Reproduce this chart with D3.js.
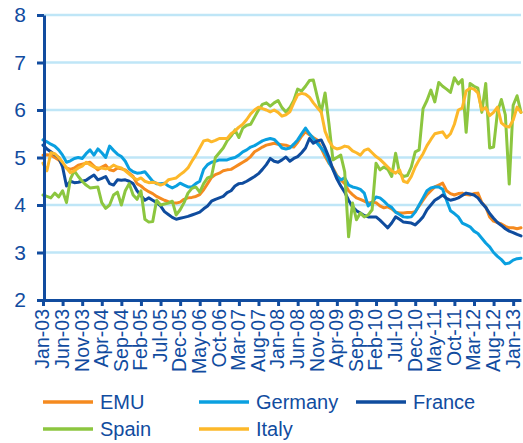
<!DOCTYPE html>
<html>
<meta charset="utf-8">
<style>
    body { margin: 0; background: #fff; }
    .line { fill: none; stroke-width: 3px; stroke-linejoin: round; stroke-linecap: round; }
    .grid line { stroke: #bfe6f7; stroke-width: 2.5px; }
    text { font-family: "Liberation Sans", Arial, sans-serif; fill: #114c9f; }
</style>
<body>
<script src="https://d3js.org/d3.v7.min.js"></script>
<script>

// tick labels (every 5 months, Jan-03 .. Jan-13)
var tickLabels = ["Jan-03","Jun-03","Nov-03","Apr-04","Sep-04","Feb-05","Jul-05","Dec-05",
    "May-06","Oct-06","Mar-07","Aug-07","Jan-08","Jun-08","Nov-08","Apr-09","Sep-09",
    "Feb-10","Jul-10","Dec-10","May-11","Oct-11","Mar-12","Aug-12","Jan-13"];

// monthly values, Jan-03 .. Mar-13
var emu = [5.05,5.06,5.05,5.0,4.95,4.85,4.78,4.75,4.78,4.84,
    4.86,4.88,4.9,4.82,4.74,4.8,4.84,4.74,4.72,4.78,
    4.76,4.74,4.67,4.6,4.45,4.4,4.33,4.28,4.24,4.18,
    4.14,4.1,4.07,4.05,4.04,4.06,4.12,4.15,4.16,4.18,
    4.22,4.32,4.45,4.58,4.64,4.67,4.72,4.74,4.75,4.8,
    4.85,4.9,4.95,5.02,5.12,5.17,5.22,5.26,5.28,5.3,
    5.28,5.27,5.26,5.23,5.22,5.32,5.45,5.54,5.48,5.42,
    5.37,5.2,5.02,4.88,4.78,4.62,4.53,4.45,4.3,4.22,
    4.15,4.12,4.08,4.04,4.06,4.05,3.98,3.94,3.96,3.92,
    3.85,3.83,3.83,3.84,3.84,3.86,3.98,4.1,4.22,4.3,
    4.38,4.42,4.46,4.3,4.24,4.21,4.24,4.25,4.22,4.21,
    4.24,4.25,4.05,3.96,3.75,3.66,3.63,3.6,3.55,3.52,
    3.52,3.5,3.52];

var germany = [5.37,5.33,5.28,5.24,5.16,5.05,4.9,4.93,4.98,5.0,
    4.98,5.08,5.16,5.05,5.18,5.1,5.0,5.24,5.15,5.07,
    5.02,4.92,4.76,4.7,4.67,4.68,4.7,4.6,4.5,4.45,
    4.45,4.46,4.4,4.36,4.4,4.46,4.42,4.38,4.38,4.45,
    4.5,4.75,4.85,4.9,4.92,4.95,4.95,4.95,4.98,5.0,
    5.05,5.12,5.16,5.22,5.25,5.3,5.35,5.38,5.4,5.38,
    5.3,5.2,5.18,5.2,5.28,5.37,5.5,5.62,5.5,5.4,
    5.3,5.2,5.1,4.9,4.75,4.6,4.53,4.57,4.42,4.38,
    4.36,4.33,4.25,3.98,4.05,4.17,4.15,4.08,4.0,3.95,
    3.85,3.8,3.75,3.74,3.75,3.85,4.0,4.15,4.3,4.36,
    4.38,4.38,4.33,4.1,3.88,3.82,3.75,3.62,3.58,3.54,
    3.45,3.4,3.3,3.2,3.12,3.0,2.92,2.85,2.76,2.78,
    2.84,2.87,2.88];

var france = [5.26,5.18,5.12,5.06,5.0,4.8,4.4,4.5,4.47,4.48,
    4.5,4.52,4.58,4.63,4.53,4.56,4.6,4.45,4.42,4.53,
    4.52,4.53,4.5,4.45,4.3,4.2,4.1,4.15,4.1,4.05,
    3.98,3.86,3.8,3.74,3.7,3.72,3.74,3.76,3.79,3.82,
    3.85,3.92,3.98,4.08,4.12,4.15,4.18,4.26,4.3,4.4,
    4.45,4.46,4.5,4.55,4.6,4.66,4.75,4.85,4.98,4.92,
    4.9,4.95,5.01,4.92,4.98,5.02,5.1,5.2,5.4,5.3,
    5.35,5.37,5.2,5.0,4.75,4.55,4.4,4.27,4.1,3.96,
    3.88,3.83,3.78,3.75,3.75,3.75,3.68,3.6,3.52,3.62,
    3.75,3.7,3.64,3.63,3.62,3.58,3.66,3.75,3.9,4.0,
    4.1,4.15,4.21,4.14,4.1,4.12,4.15,4.2,4.25,4.23,
    4.21,4.15,4.04,3.95,3.82,3.72,3.63,3.57,3.5,3.45,
    3.42,3.38,3.35];

var spain = [4.21,4.18,4.15,4.25,4.17,4.3,4.05,4.55,4.72,4.6,
    4.5,4.42,4.36,4.37,4.38,4.05,3.93,4.0,4.21,4.27,
    4.0,4.3,4.45,4.21,4.12,4.3,3.7,3.64,3.65,4.1,
    4.0,4.02,4.04,4.08,3.79,3.9,4.05,4.25,4.35,4.38,
    4.27,4.45,4.57,4.6,5.0,5.1,5.2,5.35,5.45,5.58,
    5.42,5.62,5.68,5.7,5.85,6.0,6.12,6.15,6.08,6.15,
    6.2,6.05,5.96,6.05,6.2,6.44,6.4,6.5,6.62,6.63,
    6.28,5.95,6.36,5.7,4.95,5.0,5.05,4.7,3.33,4.04,
    3.69,3.83,3.75,3.79,3.9,4.88,4.74,4.8,4.75,4.6,
    5.09,4.67,4.6,4.62,4.8,5.12,5.16,6.03,6.2,6.42,
    6.17,6.58,6.5,6.44,6.37,6.68,6.55,6.64,5.53,6.56,
    6.5,6.46,5.95,6.56,5.2,5.22,5.96,6.22,5.9,4.44,
    6.1,6.3,5.95];

var italy = [4.88,4.72,5.1,5.08,5.0,4.9,4.78,4.68,4.72,4.78,
    4.82,4.9,4.85,4.8,4.78,4.78,4.76,4.78,4.84,4.8,
    4.78,4.72,4.65,4.58,4.53,4.57,4.5,4.47,4.48,4.46,
    4.42,4.45,4.53,4.55,4.57,4.64,4.7,4.78,4.92,5.05,
    5.2,5.35,5.37,5.33,5.36,5.4,5.4,5.4,5.5,5.56,
    5.64,5.7,5.8,5.92,6.0,6.06,6.03,6.0,5.96,6.0,
    5.95,5.87,5.9,5.96,6.15,6.32,6.35,6.33,6.27,6.15,
    6.05,5.96,5.55,5.35,5.22,5.18,5.2,5.24,5.22,5.14,
    5.1,5.05,5.15,5.18,5.1,5.02,4.96,4.88,4.8,4.72,
    4.67,4.74,4.5,4.47,4.6,4.8,4.95,5.08,5.25,5.38,
    5.5,5.52,5.54,5.42,5.5,5.7,6.0,6.04,6.4,6.46,
    6.44,6.36,6.0,6.05,5.88,5.95,6.06,5.73,5.66,5.64,
    5.79,6.06,5.95];

var seriesNames = ["EMU", "Germany", "France", "Spain", "Italy"];
var seriesColors = ["#f58a1f", "#0aa0e0", "#0f4c9e", "#8cc63f", "#fdb82a"];
var seriesData = [emu, germany, france, spain, italy];

var W = 523, H = 443;
var x0 = 44, x1 = 521, yTop = 15, yBot = 300;

var svg = d3.select("body").append("svg")
    .attr("width", W)
    .attr("height", H);

var x = d3.scaleLinear().domain([0, emu.length - 1]).range([x0 - 1, x1]);
var y = d3.scaleLinear().domain([2, 8]).range([yBot, yTop]);

// gridlines
svg.append("g")
    .attr("class", "grid")
    .selectAll("line")
    .data([3, 4, 5, 6, 7, 8])
    .enter().append("line")
    .attr("x1", x0).attr("x2", x1)
    .attr("y1", function (d) { return y(d); })
    .attr("y2", function (d) { return y(d); });

// lines
var valueline = d3.line()
    .x(function (d, i) { return x(i); })
    .y(function (d) { return y(d); });

seriesData.forEach(function (s, k) {
    svg.append("path")
        .datum(s)
        .attr("class", "line")
        .style("stroke", seriesColors[k])
        .attr("d", valueline);
});

// y axis
var yAxis = svg.append("g")
    .attr("transform", "translate(" + x0 + ",0)")
    .call(d3.axisLeft(y)
        .tickValues([2, 3, 4, 5, 6, 7, 8])
        .tickFormat(d3.format("d"))
        .tickSize(7).tickSizeOuter(0).tickPadding(11));
yAxis.selectAll("text").style("font-size", "21px");

// x axis
var xAxis = svg.append("g")
    .attr("transform", "translate(0," + yBot + ")")
    .call(d3.axisBottom(x)
        .tickValues(d3.range(0, 121, 5))
        .tickFormat(function (d) { return tickLabels[d / 5]; })
        .tickSize(6).tickSizeOuter(0));
xAxis.selectAll("text")
    .attr("transform", "rotate(-90)")
    .attr("x", -9)
    .attr("y", 0)
    .attr("dy", "0.3em")
    .style("text-anchor", "end")
    .style("font-size", "19.5px");

svg.selectAll(".domain, .tick line")
    .style("stroke", "#114c9f")
    .style("stroke-width", "3px");

// legend
var legendPos = [[43, 402], [199, 402], [356, 402], [43, 429], [199, 429]];
seriesNames.forEach(function (name, k) {
    var p = legendPos[k];
    svg.append("line")
        .attr("x1", p[0]).attr("x2", p[0] + 50)
        .attr("y1", p[1]).attr("y2", p[1])
        .style("stroke", seriesColors[k])
        .style("stroke-width", "3.5px");
    svg.append("text")
        .attr("x", p[0] + 57)
        .attr("y", p[1] + 7)
        .style("font-size", "20px")
        .text(name);
});

</script>
</body>
</html>
